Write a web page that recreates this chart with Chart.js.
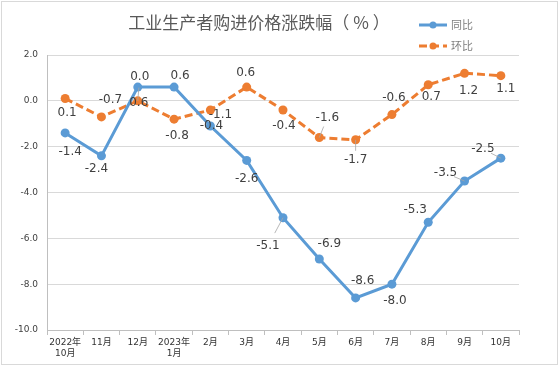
<!DOCTYPE html>
<html>
<head>
<meta charset="utf-8">
<script src="https://cdn.jsdelivr.net/npm/chart.js@4"></script>
<style>
  html, body { margin: 0; padding: 0; background: #fff; }
  #wrap { width: 559px; height: 366px; }
</style>
</head>
<body>
<div id="wrap"><canvas id="myChart" width="559" height="366"></canvas></div>
<script>
'use strict';

// data
const months = [['2022年', '10月'], '11月', '12月', ['2023年', '1月'], '2月', '3月', '4月', '5月', '6月', '7月', '8月', '9月', '10月'];
const yoy = [-1.4, -2.4, 0.6, 0.6, -1.1, -2.6, -5.1, -6.9, -8.6, -8.0, -5.3, -3.5, -2.5];
const mom = [0.1, -0.7, 0.0, -0.8, -0.4, 0.6, -0.4, -1.6, -1.7, -0.6, 0.7, 1.2, 1.1];
const yTicks = [2, 0, -2, -4, -6, -8, -10];

// label placement (dx, dy from the point), as dragged in the original
const yoyLabelPos = [[5, 19], [-5, 13], [1, 16], [6, -11], [10, -11], [0, 18], [-15, 28], [10, -15], [7, -17], [3, 17], [-13, -12], [-19, -8], [-18, -9]];
const momLabelPos = [[2, 14], [9, -17], [2, -24], [3, 17], [1, 16], [-1, -14], [1, 16], [8, -20], [0, 20], [2, -17], [3, 12], [4, 18], [5, 13]];

const BLUE = '#5B9BD5';
const ORANGE = '#ED7D31';
const TXT = '#404040';

const frame = {
    id: 'frame',
    beforeDraw(chart) {
        const ctx = chart.ctx;
        ctx.save();
        ctx.strokeStyle = '#d9d9d9';
        ctx.lineWidth = 1;
        ctx.strokeRect(1.5, 1.5, chart.width - 3, chart.height - 3);
        ctx.restore();
    },
    afterDraw(chart) {
        const ctx = chart.ctx;
        ctx.save();
        // title
        ctx.fillStyle = '#595959';
        ctx.font = '17px "Noto Sans CJK SC"';
        ctx.textAlign = 'center';
        ctx.textBaseline = 'middle';
        ctx.fillText('工业生产者购进价格涨跌幅（ % ）', 259, 23);

        // legend
        chart.data.datasets.forEach((ds, i) => {
            const y = 25 + i * 21;
            ctx.strokeStyle = ds.borderColor;
            ctx.lineWidth = 3;
            ctx.setLineDash(ds.borderDash || []);
            ctx.beginPath();
            ctx.moveTo(419, y);
            ctx.lineTo(447, y);
            ctx.stroke();
            ctx.setLineDash([]);
            ctx.fillStyle = ds.borderColor;
            ctx.beginPath();
            ctx.arc(433, y, 3.5, 0, Math.PI * 2);
            ctx.fill();
            ctx.fillStyle = '#7f7f7f';
            ctx.font = '11px "Noto Sans CJK SC"';
            ctx.textAlign = 'left';
            ctx.fillText(ds.label, 451, y);
        });

        // data labels
        ctx.font = '12px "DejaVu Sans"';
        ctx.textAlign = 'center';
        ctx.textBaseline = 'middle';
        chart.data.datasets.forEach((ds, i) => {
            const meta = chart.getDatasetMeta(i);
            const pos = ds.labelPos;
            meta.data.forEach((pt, j) => {
                const dx = pos[j][0], dy = pos[j][1];
                const x = pt.x + dx, y = pt.y + dy;
                if (Math.abs(dy) >= 20 || Math.abs(dx) >= 15) {
                    ctx.strokeStyle = '#a6a6a6';
                    ctx.lineWidth = 0.8;
                    ctx.beginPath();
                    ctx.moveTo(pt.x, pt.y);
                    ctx.lineTo(x - dx * 0.45, y - dy * 0.45);
                    ctx.stroke();
                }
                ctx.fillStyle = TXT;
                ctx.fillText(ds.data[j].toFixed(1), x, y);
            });
        });
        ctx.restore();
    }
};

const config = {
    type: 'line',
    data: {
        labels: months,
        datasets: [{
            label: '同比',
            data: yoy,
            borderColor: BLUE,
            backgroundColor: BLUE,
            borderWidth: 3,
            pointRadius: 4.5,
            pointBackgroundColor: BLUE,
            pointBorderWidth: 0,
            labelPos: yoyLabelPos
        }, {
            label: '环比',
            data: mom,
            borderColor: ORANGE,
            backgroundColor: ORANGE,
            borderWidth: 3,
            borderDash: [8, 4],
            pointRadius: 4.5,
            pointBackgroundColor: ORANGE,
            pointBorderWidth: 0,
            labelPos: momLabelPos
        }]
    },
    options: {
        responsive: false,
        animation: false,
        layout: {
            padding: { left: 0, right: 40, top: 55, bottom: 0 }
        },
        plugins: {
            legend: { display: false },
            title: { display: false },
            tooltip: { enabled: false }
        },
        scales: {
            x: {
                offset: true,
                afterFit: (s) => { s.height = 36; },
                grid: {
                    offset: true,
                    drawOnChartArea: false,
                    drawTicks: true,
                    tickLength: 5,
                    color: '#bfbfbf'
                },
                border: { color: '#bfbfbf' },
                ticks: {
                    color: '#333',
                    padding: 2,
                    maxRotation: 0,
                    autoSkip: false,
                    font: { family: 'DejaVu Sans, Noto Sans CJK SC', size: 9 }
                }
            },
            y: {
                min: Math.min(...yTicks),
                max: Math.max(...yTicks),
                afterFit: (s) => { s.width = 47; },
                afterBuildTicks: (s) => { s.ticks = yTicks.map(v => ({ value: v })); },
                grid: {
                    color: '#d9d9d9',
                    drawTicks: false
                },
                border: { color: '#bfbfbf' },
                ticks: {
                    color: TXT,
                    padding: 9,
                    callback: (v) => Number(v).toFixed(1),
                    font: { family: 'DejaVu Sans', size: 9 }
                }
            }
        }
    },
    plugins: [frame]
};

let myChart = new Chart(document.getElementById('myChart'), config);
</script>
</body>
</html>
